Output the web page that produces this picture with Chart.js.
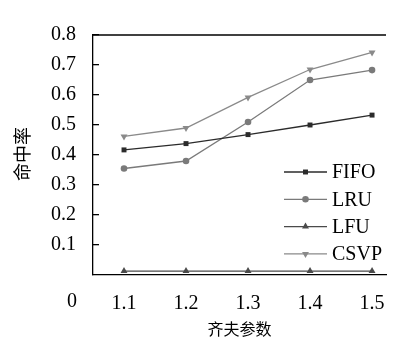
<!DOCTYPE html>
<html>
<head>
<meta charset="utf-8">
<script src="https://cdn.jsdelivr.net/npm/chart.js@4.4.0/dist/chart.umd.min.js"></script>
<style>
  html, body { margin: 0; padding: 0; background: #fff; }
  #wrap { width: 399px; height: 345px; position: relative; }
</style>
</head>
<body>
<div id="wrap"><canvas id="myChart" width="399" height="345"></canvas></div>
<script>
// datos
var zipf = [1.1, 1.2, 1.3, 1.4, 1.5];
var fifo = [0.417, 0.438, 0.468, 0.500, 0.533];
var lru  = [0.355, 0.380, 0.510, 0.650, 0.683];
var lfu  = [0.013, 0.013, 0.013, 0.013, 0.013];
var csvp = [0.462, 0.490, 0.592, 0.685, 0.742];
var yTicks = [0.1, 0.2, 0.3, 0.4, 0.5, 0.6, 0.7, 0.8];
var xLabel = '齐夫参数';
var yLabel = '命中率';

var serif = 'Liberation Serif';
var cjk = 'Noto Sans CJK SC';

function pts(arr) {
    return arr.map(function(v, i) { return { x: zipf[i], y: v }; });
}

function serie(label, data, color, style, rot, r) {
    return {
        label: label,
        data: pts(data),
        borderColor: color,
        backgroundColor: color,
        borderWidth: 1.3,
        pointStyle: style,
        rotation: rot,
        pointRadius: r,
        pointBorderWidth: 0,
        fill: false,
        tension: 0
    };
}

// leyenda dentro del area, eje superior, titulo Y, etiqueta "0"
var extras = {
    id: 'extras',
    afterDraw: function(chart) {
        var c = chart.ctx, a = chart.chartArea;
        c.save();
        c.strokeStyle = '#000';
        c.lineWidth = 1.3;
        c.beginPath();
        c.moveTo(a.left, a.top);
        c.lineTo(a.right, a.top);
        c.stroke();

        c.fillStyle = '#000';
        c.font = '20px "' + serif + '"';
        c.textAlign = 'center';
        c.textBaseline = 'middle';
        c.fillText('0', a.left - 21, a.bottom + 27);

        // titulo del eje Y
        c.save();
        c.translate(22, a.top + 119);
        c.rotate(-Math.PI / 2);
        c.font = '18px "' + cjk + '"';
        c.fillText(yLabel, 0, 0);
        c.restore();

        c.font = '20px "' + serif + '"';
        var x0 = a.right - 102, x1 = a.right - 59;
        chart.data.datasets.forEach(function(ds, i) {
            var y = a.top + 137 + i * 27.3;
            c.strokeStyle = ds.borderColor;
            c.lineWidth = ds.borderWidth;
            c.beginPath();
            c.moveTo(x0, y);
            c.lineTo(x1, y);
            c.stroke();
            c.fillStyle = ds.backgroundColor;
            Chart.helpers.drawPoint(c, {
                pointStyle: ds.pointStyle,
                rotation: ds.rotation,
                radius: ds.pointRadius,
                borderWidth: 0
            }, (x0 + x1) / 2, y);
            c.fillStyle = '#000';
            c.textAlign = 'left';
            c.fillText(ds.label, x1 + 5, y + 1);
        });
        c.restore();
    }
};

var ctx = document.getElementById('myChart').getContext('2d');
var myChart = new Chart(ctx, {
    type: 'line',
    data: {
        datasets: [
            serie('FIFO', fifo, '#2b2b2b', 'rect', 0, 3.5),
            serie('LRU', lru, '#7a7a7a', 'circle', 0, 3.3),
            serie('LFU', lfu, '#4a4a4a', 'triangle', 0, 4),
            serie('CSVP', csvp, '#8a8a8a', 'triangle', 180, 4)
        ]
    },
    plugins: [extras],
    options: {
        responsive: false,
        animation: false,
        devicePixelRatio: 1,
        layout: { padding: { top: 18, right: 13, left: 0, bottom: 0 } },
        plugins: {
            legend: { display: false },
            tooltip: { enabled: false }
        },
        scales: {
            x: {
                type: 'linear',
                min: 1.05,
                max: 1.5225,
                afterBuildTicks: function(scale) {
                    scale.ticks = zipf.map(function(v) { return { value: v }; });
                },
                afterFit: function(scale) { scale.height = 70; },
                grid: { display: false },
                border: { color: '#000', width: 1.3 },
                ticks: {
                    color: '#000',
                    font: { family: serif, size: 20 },
                    padding: 9,
                    maxRotation: 0,
                    callback: function(v) { return v.toFixed(1); }
                },
                title: {
                    display: true,
                    text: xLabel,
                    color: '#000',
                    font: { family: cjk, size: 16 },
                    padding: { top: 0, bottom: 6 }
                }
            },
            y: {
                min: 0,
                max: 0.8,
                afterBuildTicks: function(scale) {
                    scale.ticks = yTicks.map(function(v) { return { value: v }; });
                },
                afterFit: function(scale) { scale.width = 93; },
                grid: { drawOnChartArea: false, tickLength: -6, color: '#000', lineWidth: 1.3 },
                border: { color: '#000', width: 1.3 },
                ticks: {
                    color: '#000',
                    font: { family: serif, size: 20 },
                    padding: 23,
                    callback: function(v) { return v.toFixed(1); }
                },
                title: { display: false }
            }
        }
    }
});
</script>
</body>
</html>
